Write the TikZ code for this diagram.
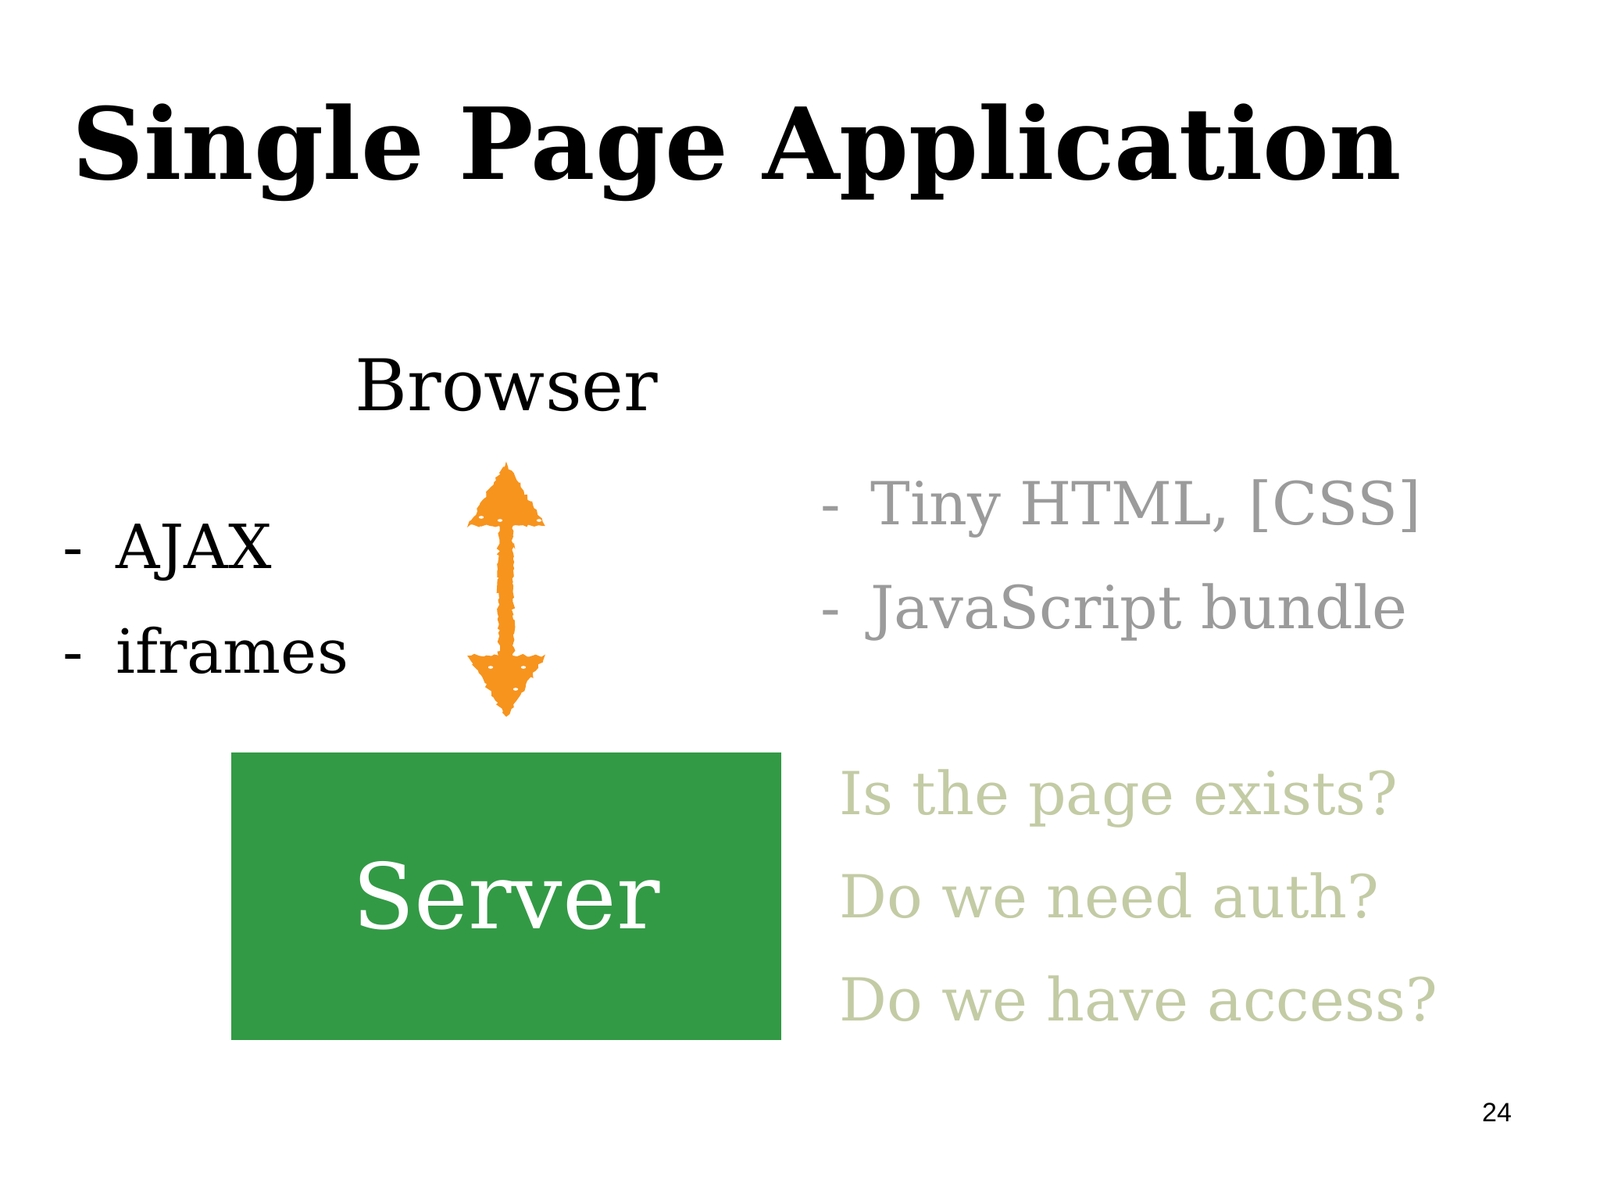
\documentclass[tikz,border=0pt]{standalone}
\usepackage{fontspec}
\setmainfont{DejaVu Serif}
\newfontfamily\numfont{Liberation Sans}
\usetikzlibrary{positioning,decorations.pathmorphing}
\definecolor{arrowcol}{HTML}{F7941E}
\definecolor{servercol}{HTML}{329A45}
\definecolor{graycol}{HTML}{9B9B9B}
\definecolor{palecol}{HTML}{C3CBA5}
\newcommand{\listdash}[1]{\makebox[#1][l]{-}}
\tikzset{
	item/.style={anchor=base west,inner sep=0pt,font=\fontsize{38}{38}\selectfont},
	chalk/.style={draw=arrowcol,fill=arrowcol,line width=1pt,decorate,decoration={random steps,segment length=2pt,amplitude=1.2pt}},
}
\begin{document}
\begin{tikzpicture}[x=1pt,y=-1pt]
	\useasboundingbox (0,0) rectangle (1024,768);
	\node[anchor=base west,inner sep=0pt,font=\bfseries\fontsize{63.6}{64}\selectfont] (title) at (46,114.5) {Single Page Application};
	\node[item,font=\fontsize{45.6}{46}\selectfont] (browser) at (227,262.5) {Browser};
	% left list
	\node[item,font=\fontsize{39}{39}\selectfont] (ajax) at (40,363.5) {\listdash{34pt}AJAX};
	\node[item,font=\fontsize{39}{39}\selectfont] (iframes) at (40,430.5) {\listdash{34pt}iframes};
	% right list
	\node[item,text=graycol] (html) at (525,335.5) {\listdash{32pt}Tiny HTML, [CSS]};
	\node[item,text=graycol] (bundle) at (525,402) {\listdash{32pt}JavaScript bundle};
	\node[fill=servercol,minimum width=352pt,minimum height=184pt,inner sep=0pt,text=white,font=\fontsize{58}{58}\selectfont] (server) at (324,573.5) {\raisebox{1.5pt}{Server}};
	\node[item,text=palecol] (exists) at (537,521) {Is the page exists?};
	\node[item,text=palecol] (auth) at (537,587) {Do we need auth?};
	\node[item,text=palecol] (access) at (537,653) {Do we have access?};
	\node[inner sep=0pt,font=\numfont\fontsize{17}{17}\selectfont] (page) at (958,712) {24};
	% arrow
	\coordinate (top) at (324,297);
	\coordinate (bot) at (324,458);
	\draw[chalk] (top) -- (348,336) -- (328,336) -- (328,420) -- (348,420) -- (bot) -- (300,420) -- (319.5,420) -- (319.5,336) -- (300,336) -- cycle;
	\foreach \px/\py in {320/333,308/331,345/333,314/427,335/427,330/441,315/347}
		\fill[white] (\px,\py) ellipse (1.6pt and 0.9pt);
\end{tikzpicture}
\end{document}
